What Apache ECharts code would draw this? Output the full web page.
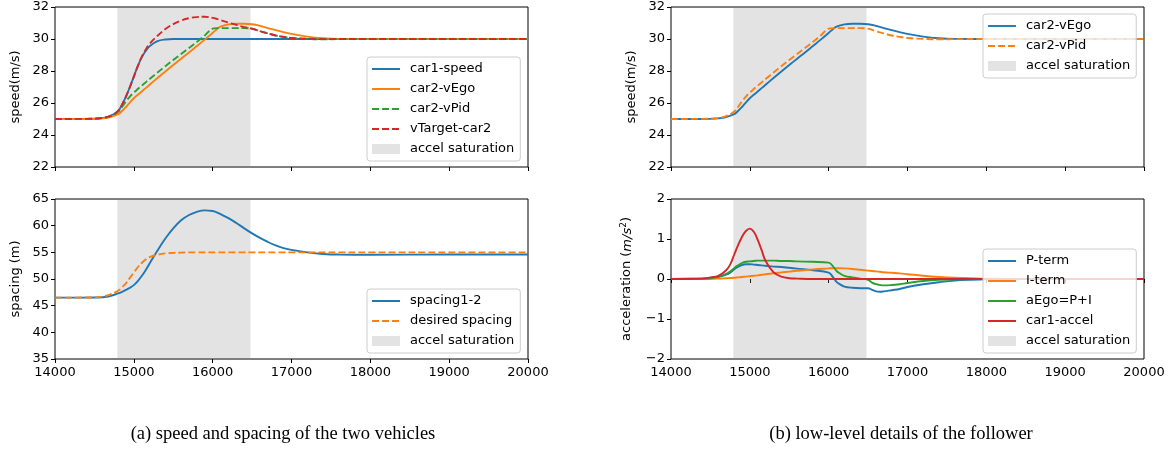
<!DOCTYPE html>
<html>
<head>
<meta charset="utf-8">
<script src="https://cdn.jsdelivr.net/npm/echarts@6/dist/echarts.min.js"></script>
<style>
  html, body { margin: 0; padding: 0; background: #fff; }
  #chart { width: 1174px; height: 451px; }
</style>
</head>
<body>
<div id="chart"></div>
<script>
// ---- time samples (simulation steps) for speed / spacing panels ----
const tSpeed = [14000, 14500, 14600, 14700, 14800, 14850, 14900, 14950, 15000, 15050,
  15100, 15150, 15200, 15300, 15400, 15500, 15600, 15700, 15800, 15900,
  16000, 16050, 16100, 16200, 16300, 16400, 16500, 16600, 16700, 16800,
  16900, 17000, 17200, 17400, 17600, 18000, 19000, 20000];

// speeds (m/s)
const car1Speed = [25, 25.02, 25.07, 25.18, 25.5, 25.9, 26.4, 27.0, 27.65, 28.3,
  28.85, 29.25, 29.55, 29.86, 29.97, 30, 30, 30, 30, 30,
  30, 30, 30, 30, 30, 30, 30, 30, 30, 30,
  30, 30, 30, 30, 30, 30, 30, 30];
const car2VEgo = [25, 25.01, 25.04, 25.12, 25.3, 25.5, 25.75, 26.03, 26.3, 26.51,
  26.72, 26.93, 27.14, 27.56, 27.97, 28.37, 28.77, 29.16, 29.56, 29.96,
  30.38, 30.6, 30.77, 30.91, 30.95, 30.95, 30.92, 30.82, 30.68, 30.55,
  30.43, 30.32, 30.15, 30.05, 30.01, 30, 30, 30];
const car2VPid = [25, 25.02, 25.06, 25.18, 25.45, 25.75, 26.1, 26.4, 26.65, 26.87,
  27.08, 27.29, 27.5, 27.9, 28.3, 28.68, 29.06, 29.44, 29.82, 30.22,
  30.65, 30.68, 30.68, 30.68, 30.68, 30.68, 30.65, 30.48, 30.35, 30.22,
  30.13, 30.06, 30.01, 29.98, 29.99, 30, 30, 30];
const vTargetCar2 = [25, 25.02, 25.07, 25.18, 25.5, 25.9, 26.4, 27.0, 27.65, 28.3,
  28.88, 29.33, 29.7, 30.2, 30.62, 30.93, 31.15, 31.3, 31.37, 31.39,
  31.32, 31.26, 31.18, 31.03, 30.88, 30.74, 30.64, 30.49, 30.35, 30.22,
  30.13, 30.06, 30.01, 29.99, 30, 30, 30, 30];

// spacing (m)
const spacing12 = [46.5, 46.52, 46.58, 46.8, 47.3, 47.6, 47.95, 48.35, 48.85, 49.6,
  50.55, 51.65, 52.9, 55.35, 57.6, 59.5, 61.0, 62.0, 62.6, 62.87,
  62.75, 62.5, 62.15, 61.4, 60.5, 59.5, 58.55, 57.7, 56.95, 56.3,
  55.8, 55.45, 55.0, 54.7, 54.58, 54.55, 54.6, 54.6];
const desiredSpacing = [46.5, 46.55, 46.7, 47.1, 47.8, 48.45, 49.2, 50.2, 51.2, 52.2,
  53.0, 53.65, 54.1, 54.55, 54.8, 54.9, 54.95, 55, 55, 55,
  55, 55, 55, 55, 55, 55, 55, 55, 55, 55,
  55, 55, 55, 55, 55, 55, 55, 55];

// ---- acceleration panel ----
const tAcc = [14000, 14400, 14500, 14600, 14700, 14750, 14800, 14850, 14900, 14950,
  15000, 15050, 15100, 15150, 15200, 15300, 15400, 15500, 15600, 15800,
  16000, 16050, 16100, 16150, 16200, 16300, 16400, 16500, 16550, 16600,
  16650, 16700, 16800, 16900, 17000, 17200, 17400, 17600, 17800, 18000,
  19000, 20000];
const pTerm = [0, 0.01, 0.02, 0.05, 0.11, 0.16, 0.24, 0.3, 0.35, 0.37,
  0.37, 0.36, 0.35, 0.34, 0.33, 0.31, 0.3, 0.28, 0.26, 0.22,
  0.16, 0.06, -0.07, -0.14, -0.19, -0.22, -0.23, -0.23, -0.27, -0.31,
  -0.32, -0.31, -0.28, -0.25, -0.2, -0.13, -0.08, -0.04, -0.02, -0.01,
  0, 0];
const iTerm = [0, 0, 0.005, 0.01, 0.02, 0.025, 0.03, 0.04, 0.05, 0.06,
  0.07, 0.08, 0.09, 0.105, 0.12, 0.145, 0.165, 0.185, 0.205, 0.24,
  0.265, 0.27, 0.27, 0.27, 0.265, 0.25, 0.23, 0.21, 0.2, 0.19,
  0.18, 0.17, 0.155, 0.14, 0.12, 0.08, 0.05, 0.03, 0.02, 0.01,
  0, 0];
const aEgo = [0, 0.01, 0.02, 0.06, 0.13, 0.19, 0.27, 0.34, 0.4, 0.43,
  0.44, 0.45, 0.46, 0.46, 0.46, 0.46, 0.45, 0.45, 0.44, 0.43,
  0.41, 0.33, 0.2, 0.13, 0.08, 0.04, 0.01, -0.02, -0.09, -0.13,
  -0.15, -0.16, -0.15, -0.13, -0.1, -0.05, -0.02, -0.01, 0, 0,
  0, 0];
const car1Accel = [0, 0.01, 0.04, 0.08, 0.22, 0.36, 0.6, 0.84, 1.05, 1.2,
  1.26, 1.18, 0.98, 0.72, 0.45, 0.17, 0.06, 0.02, 0.01, 0,
  0, 0, 0, 0, 0, 0, 0, 0, 0, 0,
  0, 0, 0, 0, 0, 0, 0, 0, 0, 0,
  0, 0];

// acceleration saturation interval
const satStart = 14790;
const satEnd = 16480;

// axis ticks
const xTicks = { min: 14000, max: 20000, interval: 1000 };
const speedTicks = { min: 22, max: 32, interval: 2 };
const spacingTicks = { min: 35, max: 65, interval: 5 };
const accelTicks = { min: -2, max: 2, interval: 1 };

// captions
const captionA = '(a) speed and spacing of the two vehicles';
const captionB = '(b) low-level details of the follower';

// ---- styling ----
const C = { blue: '#1f77b4', orange: '#ff7f0e', green: '#2ca02c', red: '#d62728' };
const SHADE = 'rgba(128,128,128,0.22)';
const FONT = 'DejaVu Sans';
const FS = 13;
const DASH = [7, 3];
const LW = 1.9;

const grids = [
  { left: 55, top: 7, width: 473, height: 160 },   // speed (a)
  { left: 55, top: 199, width: 473, height: 160 }, // spacing (a)
  { left: 671, top: 7, width: 473, height: 160 },  // speed (b)
  { left: 671, top: 199, width: 473, height: 160 } // acceleration (b)
].map(g => Object.assign({ show: true, borderColor: '#000', borderWidth: 1, backgroundColor: 'transparent' }, g));

const pair = (t, v) => t.map((x, i) => [x, v[i]]);
const fmtPlain = v => String(v).replace('-', '\u2212');

function xAxisFor(gi, labels) {
  return {
    type: 'value', gridIndex: gi, min: xTicks.min, max: xTicks.max, interval: xTicks.interval,
    axisLine: { show: false },
    axisTick: { show: true, length: 4, lineStyle: { color: '#000', width: 1 } },
    axisLabel: { show: labels, color: '#000', fontSize: FS, fontFamily: FONT, margin: 7, formatter: fmtPlain },
    splitLine: { show: false }
  };
}
function yAxisFor(gi, ticks, name, gap, rich) {
  return {
    type: 'value', gridIndex: gi, min: ticks.min, max: ticks.max, interval: ticks.interval,
    name: name, nameLocation: 'middle', nameGap: gap, nameRotate: 90,
    nameTextStyle: Object.assign({ color: '#000', fontSize: FS, fontFamily: FONT }, rich ? { rich: rich } : {}),
    axisLine: { show: false },
    axisTick: { show: true, length: 4, lineStyle: { color: '#000', width: 1 } },
    axisLabel: { color: '#000', fontSize: FS, fontFamily: FONT, margin: 6, formatter: fmtPlain },
    splitLine: { show: false }
  };
}

function line(name, gi, t, v, color, dashed) {
  return {
    type: 'line', name: name, xAxisIndex: gi, yAxisIndex: gi,
    data: pair(t, v), symbol: 'none', smooth: 0.4, z: 3,
    lineStyle: { color: color, width: LW, type: dashed ? DASH : 'solid' },
    itemStyle: { color: color }
  };
}
function saturation(gi) {
  return {
    type: 'line', name: 'accel saturation', xAxisIndex: gi, yAxisIndex: gi,
    data: [], symbol: 'none', z: 1,
    itemStyle: { color: SHADE }, lineStyle: { color: SHADE },
    markArea: { silent: true, itemStyle: { color: SHADE }, data: [[{ xAxis: satStart }, { xAxis: satEnd }]] }
  };
}

const satLegendItem = { name: 'accel saturation', icon: 'rect', itemStyle: { color: SHADE, opacity: 1, borderWidth: 0 } };

function legendAt(left, top, data) {
  return {
    orient: 'vertical', left: left, top: top,
    data: data,
    itemWidth: 28, itemHeight: 10, itemGap: 6,
    padding: [5, 6, 5, 4],
    backgroundColor: 'rgba(255,255,255,0.8)',
    borderColor: '#cccccc', borderWidth: 1, borderRadius: 3,
    selectedMode: false,
    itemStyle: { opacity: 0 },
    textStyle: { color: '#000', fontSize: FS, fontFamily: FONT, lineHeight: 14, padding: [0, 0, 0, 5] }
  };
}

const option = {
  animation: false,
  grid: grids,
  xAxis: [xAxisFor(0, false), xAxisFor(1, true), xAxisFor(2, false), xAxisFor(3, true)],
  yAxis: [
    yAxisFor(0, speedTicks, 'speed(m/s)', 33),
    yAxisFor(1, spacingTicks, 'spacing (m)', 33),
    yAxisFor(2, speedTicks, 'speed(m/s)', 33),
    yAxisFor(3, accelTicks, 'acceleration ({it|m/s}{sup|2})', 37, {
      it: { fontStyle: 'italic', fontSize: FS, fontFamily: FONT, color: '#000', verticalAlign: 'bottom' },
      sup: { fontSize: 9, fontFamily: FONT, color: '#000', verticalAlign: 'bottom', padding: [0, 0, 6, 0] }
    })
  ],
  legend: [
    legendAt(367, 57, ['car1-speed', 'car2-vEgo', 'car2-vPid', 'vTarget-car2', satLegendItem]),
    legendAt(367, 289, ['spacing1-2', 'desired spacing', satLegendItem]),
    legendAt(983, 14, [
      { name: 'car2-vEgo', lineStyle: { color: C.blue, type: 'solid', width: LW } },
      { name: 'car2-vPid', lineStyle: { color: C.orange, type: DASH, width: LW } },
      satLegendItem
    ]),
    legendAt(983, 249, ['P-term', 'I-term', 'aEgo=P+I', 'car1-accel', satLegendItem])
  ],
  series: [
    // (a) speeds
    saturation(0),
    line('car1-speed', 0, tSpeed, car1Speed, C.blue, false),
    line('car2-vEgo', 0, tSpeed, car2VEgo, C.orange, false),
    line('car2-vPid', 0, tSpeed, car2VPid, C.green, true),
    line('vTarget-car2', 0, tSpeed, vTargetCar2, C.red, true),
    // (a) spacing
    saturation(1),
    line('spacing1-2', 1, tSpeed, spacing12, C.blue, false),
    line('desired spacing', 1, tSpeed, desiredSpacing, C.orange, true),
    // (b) follower speed
    saturation(2),
    line('car2-vEgo', 2, tSpeed, car2VEgo, C.blue, false),
    line('car2-vPid', 2, tSpeed, car2VPid, C.orange, true),
    // (b) acceleration terms
    saturation(3),
    line('P-term', 3, tAcc, pTerm, C.blue, false),
    line('I-term', 3, tAcc, iTerm, C.orange, false),
    line('aEgo=P+I', 3, tAcc, aEgo, C.green, false),
    line('car1-accel', 3, tAcc, car1Accel, C.red, false)
  ],
  graphic: [
    { type: 'text', style: { text: captionA, x: 283, y: 434, align: 'center', verticalAlign: 'middle', font: '18.5px "Liberation Serif"', fill: '#000' } },
    { type: 'text', style: { text: captionB, x: 901, y: 434, align: 'center', verticalAlign: 'middle', font: '18.5px "Liberation Serif"', fill: '#000' } }
  ]
};

const chart = echarts.init(document.getElementById('chart'), null, { renderer: 'canvas' });
chart.setOption(option);
</script>
</body>
</html>
